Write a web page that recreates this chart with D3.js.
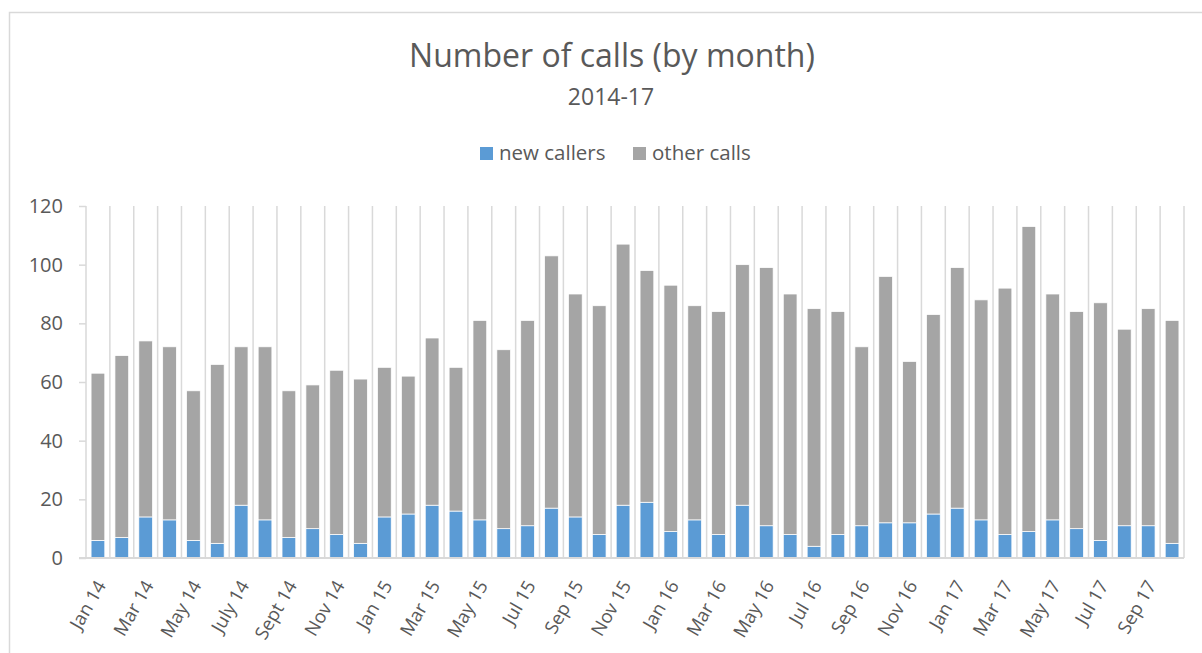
<!DOCTYPE html>
<html>
<head>
<meta charset="utf-8">
<script src="https://cdn.jsdelivr.net/npm/d3@7"></script>
<style>
  body { margin: 0; background: #fff; }
  svg { display: block; font-family: "Open Sans", Lato, sans-serif; }
</style>
</head>
<body>
<script>
// months Jan 2014 .. Oct 2017
const months = [
  "Jan 14", "Feb 14", "Mar 14", "Apr 14", "May 14", "Jun 14", "July 14", "Aug 14", "Sept 14", "Oct 14", "Nov 14", "Dec 14",
  "Jan 15", "Feb 15", "Mar 15", "Apr 15", "May 15", "Jun 15", "Jul 15", "Aug 15", "Sep 15", "Oct 15", "Nov 15", "Dec 15",
  "Jan 16", "Feb 16", "Mar 16", "Apr 16", "May 16", "Jun 16", "Jul 16", "Aug 16", "Sep 16", "Oct 16", "Nov 16", "Dec 16",
  "Jan 17", "Feb 17", "Mar 17", "Apr 17", "May 17", "Jun 17", "Jul 17", "Aug 17", "Sep 17", "Oct 17"
];
const newCallers = [
  6, 7, 14, 13, 6, 5, 18, 13, 7, 10, 8, 5,
  14, 15, 18, 16, 13, 10, 11, 17, 14, 8, 18, 19,
  9, 13, 8, 18, 11, 8, 4, 8, 11, 12, 12, 15,
  17, 13, 8, 9, 13, 10, 6, 11, 11, 5
];
const otherCalls = [
  57, 62, 60, 59, 51, 61, 54, 59, 50, 49, 56, 56,
  51, 47, 57, 49, 68, 61, 70, 86, 76, 78, 89, 79,
  84, 73, 76, 82, 88, 82, 81, 76, 61, 84, 55, 68,
  82, 75, 84, 104, 77, 74, 81, 67, 74, 76
];
const seriesNames = ["new callers", "other calls"];
const seriesColors = ["#5B9BD5", "#A5A5A5"];
const yTicks = [0, 20, 40, 60, 80, 100, 120];

const width = 1202, height = 653;
const plotLeft = 86, plotRight = 1184, plotTop = 206, plotBottom = 558;
const textColor = "#595959";
const gridColor = "#d9d9d9";

const svg = d3.select("body").append("svg")
  .attr("width", width)
  .attr("height", height);

// chart frame
svg.append("path")
  .attr("d", "M9.5," + height + "V12.5H" + width)
  .attr("fill", "none")
  .attr("stroke", gridColor)
  .attr("stroke-width", 1.5);

// titles
svg.append("text")
  .attr("x", 612).attr("y", 67)
  .attr("text-anchor", "middle")
  .attr("fill", textColor)
  .style("font-size", "32px")
  .text("Number of calls (by month)");

svg.append("text")
  .attr("x", 611).attr("y", 105)
  .attr("text-anchor", "middle")
  .attr("fill", textColor)
  .style("font-size", "23px")
  .text("2014-17");

const data = months.map((m, i) => ({ month: m, "new callers": newCallers[i], "other calls": otherCalls[i] }));

const xScale = d3.scaleBand()
  .domain(months)
  .range([plotLeft, plotRight])
  .paddingInner(0.425)
  .paddingOuter(0.2125);

const yScale = d3.scaleLinear()
  .domain([0, 120])
  .range([plotBottom, plotTop]);

// vertical category grid lines
const step = xScale.step();
svg.append("g")
  .selectAll("line")
  .data(d3.range(months.length + 1))
  .enter()
  .append("line")
  .attr("x1", (i) => plotLeft + i * step)
  .attr("x2", (i) => plotLeft + i * step)
  .attr("y1", plotTop)
  .attr("y2", plotBottom)
  .attr("stroke", gridColor)
  .attr("stroke-width", 1.5);

// y axis
const yAxis = d3.axisLeft(yScale)
  .tickValues(yTicks)
  .tickSize(7)
  .tickPadding(16);
const yG = svg.append("g")
  .attr("transform", "translate(" + plotLeft + ",0)")
  .call(yAxis);
yG.select(".domain").remove();
yG.selectAll(".tick line").attr("stroke", gridColor).attr("stroke-width", 1.5);
yG.selectAll(".tick text")
  .attr("fill", textColor)
  .style("font-size", "20px")
  .style("font-family", "'Open Sans', sans-serif");

// stacked bars
const stack = d3.stack().keys(seriesNames)(data);
svg.append("g")
  .selectAll("g")
  .data(stack)
  .enter()
  .append("g")
  .attr("fill", (d, i) => seriesColors[i])
  .selectAll("rect")
  .data((d) => d)
  .enter()
  .append("rect")
  .attr("x", (d) => xScale(d.data.month))
  .attr("width", xScale.bandwidth())
  .attr("y", (d) => yScale(d[1]))
  .attr("height", (d) => yScale(d[0]) - yScale(d[1]))
  .attr("stroke", "#fff")
  .attr("stroke-width", 0.75);

// x axis
const xAxis = d3.axisBottom(xScale)
  .tickValues(months.filter((m, i) => i % 2 === 0))
  .tickSize(0)
  .tickPadding(0);
const xG = svg.append("g")
  .attr("transform", "translate(0," + plotBottom + ")")
  .call(xAxis);
xG.select(".domain")
  .attr("d", "M" + (plotLeft - 7) + ",0H" + plotRight)
  .attr("stroke", gridColor)
  .attr("stroke-width", 2);
xG.selectAll(".tick text")
  .attr("fill", textColor)
  .style("font-size", "18.5px")
  .style("font-family", "'Open Sans', sans-serif")
  .attr("text-anchor", "end")
  .attr("dy", "0.35em")
  .attr("transform", "translate(3,24) rotate(-60)");

// legend
const legendItems = [
  { name: "new callers", color: seriesColors[0], x: 480 },
  { name: "other calls", color: seriesColors[1], x: 633 }
];
const legend = svg.append("g");
legendItems.forEach((item) => {
  legend.append("rect")
    .attr("x", item.x).attr("y", 147)
    .attr("width", 13).attr("height", 13)
    .attr("fill", item.color);
  legend.append("text")
    .attr("x", item.x + 19).attr("y", 160)
    .attr("fill", textColor)
    .style("font-size", "20.5px")
    .text(item.name);
});
</script>
</body>
</html>
